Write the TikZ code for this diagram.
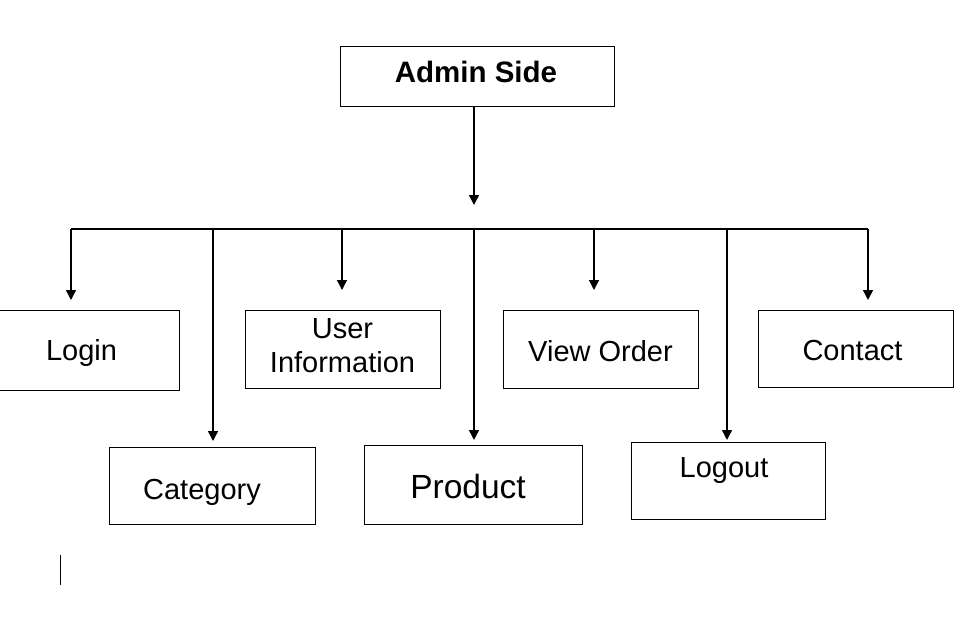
\documentclass[tikz,border=0pt]{standalone}
\usepackage{fontspec}
\setmainfont{Liberation Sans}
\usetikzlibrary{arrows.meta}
\begin{document}
\begin{tikzpicture}[x=1pt,y=-1pt,
  box/.style={draw, line width=0.9pt, inner sep=0pt, rectangle},
  txt/.style={font=\fontsize{29}{34}\selectfont, align=center, inner sep=0pt},
  conn/.style={line width=1.4pt},
  arr/.style={line width=1.4pt, -{Triangle[width=10pt,length=10pt]}}]
\useasboundingbox (0,0) rectangle (971,632);
% boxes
\node[box, minimum width=274pt, minimum height=60pt,
  label={[txt, font=\fontsize{29.5}{34}\selectfont\bfseries, xshift=-1pt, yshift=4pt]center:Admin Side}] (admin) at (477,76) {};
\node[box, minimum width=183pt, minimum height=80pt,
  label={[txt, xshift=-6pt, yshift=-3pt]center:Login}] (login) at (87.5,350) {};
\node[box, minimum width=195pt, minimum height=78pt,
  label={[txt, xshift=0pt, yshift=3pt]center:User\\Information}] (user) at (342.5,349) {};
\node[box, minimum width=195pt, minimum height=78pt,
  label={[txt, xshift=0pt, yshift=-2pt]center:View Order}] (view) at (600.5,349) {};
\node[box, minimum width=195pt, minimum height=77pt,
  label={[txt, xshift=-3pt, yshift=-2pt]center:Contact}] (contact) at (855.5,348.5) {};
\node[box, minimum width=206pt, minimum height=77pt,
  label={[txt, xshift=-10pt, yshift=-7pt]center:Category}] (cat) at (212,485.5) {};
\node[box, minimum width=218pt, minimum height=79pt,
  label={[txt, font=\fontsize{33.5}{38}\selectfont, xshift=-5pt, yshift=-2pt]center:Product}] (prod) at (473,484.5) {};
\node[box, minimum width=194pt, minimum height=77pt,
  label={[txt, xshift=-4pt, yshift=10pt]center:Logout}] (logout) at (728,480.5) {};
% coordinates
\coordinate (hub) at (474,205);
\coordinate (busL) at (71,229);
\coordinate (busR) at (868,229);
\coordinate (b1) at (71,229);   \coordinate (t1) at (71,300);
\coordinate (b2) at (213,229);  \coordinate (t2) at (213,441);
\coordinate (b3) at (342,229);  \coordinate (t3) at (342,290);
\coordinate (b4) at (474,229);  \coordinate (t4) at (474,440);
\coordinate (b5) at (594,229);  \coordinate (t5) at (594,290);
\coordinate (b6) at (727,229);  \coordinate (t6) at (727,440);
\coordinate (b7) at (868,229);  \coordinate (t7) at (868,300);
% connectors
\draw[arr] (admin.south -| hub) -- (hub);
\draw[conn] (busL) -- (busR);
\draw[arr] (b1) -- (t1);
\draw[arr] (b2) -- (t2);
\draw[arr] (b3) -- (t3);
\draw[arr] (b4) -- (t4);
\draw[arr] (b5) -- (t5);
\draw[arr] (b6) -- (t6);
\draw[arr] (b7) -- (t7);
% stray mark
\draw[line width=1pt] (60,555) -- (60,585);
\end{tikzpicture}
\end{document}
